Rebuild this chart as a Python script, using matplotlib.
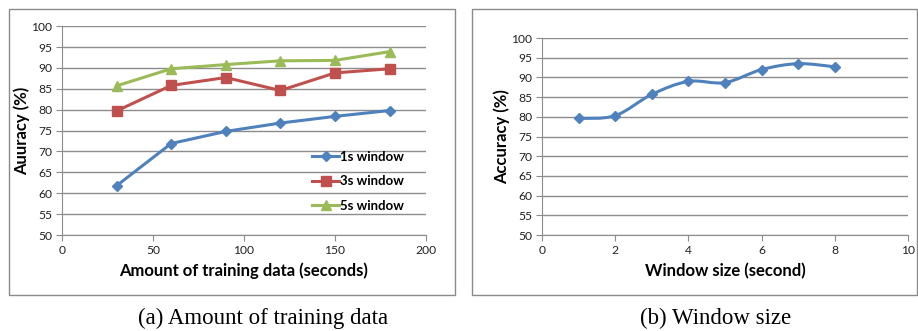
import matplotlib
matplotlib.use('Agg')
import matplotlib.pyplot as plt
from matplotlib.path import Path
from matplotlib.patches import PathPatch, Rectangle

# (a) amount of training data
train_secs = [30, 60, 90, 120, 150, 180]
acc_1s = [61.8, 71.9, 74.8, 76.8, 78.4, 79.8]
acc_3s = [79.7, 85.8, 87.7, 84.6, 88.8, 89.8]
acc_5s = [85.7, 89.8, 90.8, 91.7, 91.8, 93.9]
series_labels = ['1s window', '3s window', '5s window']

# (b) window size
win_size = [1, 2, 3, 4, 5, 6, 7, 8]
acc_win = [79.6, 80.3, 85.7, 89.0, 88.7, 92.0, 93.5, 92.7]

BLUE = '#4F81BD'
RED = '#C0504D'
GREEN = '#9BBB59'
GRID = '#8C8C8C'
FONT = ['Lato', 'DejaVu Sans']

plt.rcParams['font.family'] = FONT

fig = plt.figure(figsize=(9.18, 3.31), dpi=100)

# chart frames like excel
for x0, w in [(0.0098, 0.486), (0.514, 0.485)]:
    fig.patches.append(Rectangle((x0, 0.109), w, 0.864, transform=fig.transFigure,
                                 fill=False, edgecolor='#8A8A8A', linewidth=1.0))


def style_axes(ax, xmax, xstep):
    ax.set_ylim(50, 100)
    ax.set_yticks(range(50, 101, 5))
    ax.set_xlim(0, xmax)
    ax.set_xticks(range(0, xmax + 1, xstep))
    ax.grid(axis='y', color=GRID, linewidth=1.0)
    ax.set_axisbelow(True)
    for s in ['top', 'right']:
        ax.spines[s].set_visible(False)
    for s in ['left', 'bottom']:
        ax.spines[s].set_color(GRID)
    ax.tick_params(axis='both', direction='out', length=4, color=GRID,
                   labelsize=8.7, labelcolor='#222222', pad=3)


ax1 = fig.add_axes([0.0675, 0.29, 0.3965, 0.631])
style_axes(ax1, 200, 50)
ax1.plot(train_secs, acc_1s, color=BLUE, lw=2.2, marker='D', ms=5.5, label=series_labels[0])
ax1.plot(train_secs, acc_3s, color=RED, lw=2.2, marker='s', ms=7, label=series_labels[1])
ax1.plot(train_secs, acc_5s, color=GREEN, lw=2.2, marker='^', ms=7.5, label=series_labels[2])
ax1.set_xlabel('Amount of training data (seconds)', fontsize=12, fontweight='bold', labelpad=5)
ax1.set_ylabel('Auuracy (%)', fontsize=12, fontweight='bold', labelpad=1)
ax1.legend(loc='lower right', bbox_to_anchor=(0.958, 0.08), frameon=False,
           prop={'weight': 'bold', 'size': 9.5}, handlelength=2.0, handletextpad=0.1,
           labelspacing=0.95, borderpad=0)

ax2 = fig.add_axes([0.5904, 0.29, 0.3987, 0.595])
style_axes(ax2, 10, 2)

# smoothed line (excel style) with bezier segments through the points
verts = [(win_size[0], acc_win[0])]
codes = [Path.MOVETO]
n = len(win_size)
for i in range(n - 1):
    p0 = (win_size[max(i - 1, 0)], acc_win[max(i - 1, 0)])
    p1 = (win_size[i], acc_win[i])
    p2 = (win_size[i + 1], acc_win[i + 1])
    p3 = (win_size[min(i + 2, n - 1)], acc_win[min(i + 2, n - 1)])
    c1 = (p1[0] + (p2[0] - p0[0]) / 6, p1[1] + (p2[1] - p0[1]) / 6)
    c2 = (p2[0] - (p3[0] - p1[0]) / 6, p2[1] - (p3[1] - p1[1]) / 6)
    verts += [c1, c2, p2]
    codes += [Path.CURVE4] * 3
ax2.add_patch(PathPatch(Path(verts, codes), facecolor='none', edgecolor=BLUE, lw=2.2))
ax2.plot(win_size, acc_win, linestyle='none', color=BLUE, marker='D', ms=5.5)
ax2.set_xlabel('Window size (second)', fontsize=12, fontweight='bold', labelpad=5)
ax2.set_ylabel('Accuracy (%)', fontsize=12, fontweight='bold', labelpad=1)

fig.text(0.287, 0.038, '(a) Amount of training data', ha='center', va='center',
         fontsize=16.5, family='Liberation Serif')
fig.text(0.78, 0.038, '(b) Window size', ha='center', va='center',
         fontsize=16.5, family='Liberation Serif')

fig.savefig('out.png', dpi=100)
